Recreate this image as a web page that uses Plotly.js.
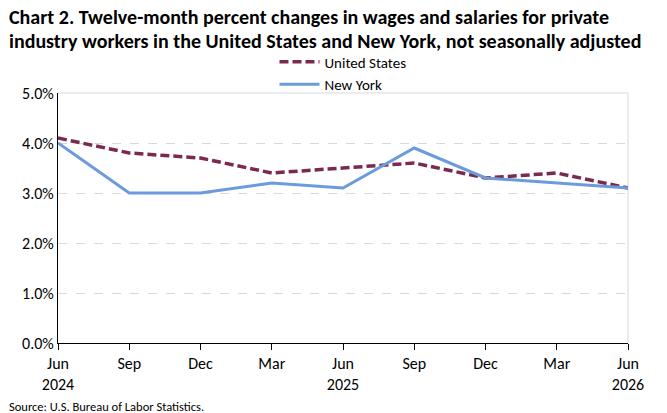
<!DOCTYPE html>
<html>
<head>
<meta charset="utf-8">
<script src="https://cdn.plot.ly/plotly-3.0.1.min.js"></script>
<style>
  html, body { margin: 0; padding: 0; background: #fff; }
  #chart { width: 667px; height: 413px; }
</style>
</head>
<body>
<div id="chart"></div>
<script>
// quarterly points, Jun 2024 to Jun 2026
var quarters = ['Jun<br>2024', 'Sep', 'Dec', 'Mar', 'Jun<br>2025', 'Sep', 'Dec', 'Mar', 'Jun<br>2026'];
var unitedStates = [4.1, 3.8, 3.7, 3.4, 3.5, 3.6, 3.3, 3.4, 3.1];
var newYork = [4.0, 3.0, 3.0, 3.2, 3.1, 3.9, 3.3, 3.2, 3.1];
var yTicks = [0, 1, 2, 3, 4, 5];
var yTickLabels = ['0.0%', '1.0%', '2.0%', '3.0%', '4.0%', '5.0%'];

var xIdx = quarters.map(function (q, i) { return i; });
var font = 'Carlito, Lato, "Liberation Sans", sans-serif';

var traces = [
  {
    x: xIdx, y: unitedStates, type: 'scatter', mode: 'lines',
    name: 'United States',
    line: { color: '#7a2a4e', width: 3.5, dash: '9px,4px' }
  },
  {
    x: xIdx, y: newYork, type: 'scatter', mode: 'lines',
    name: 'New York',
    line: { color: '#6b9bdc', width: 3 }
  }
];

var layout = {
  width: 667,
  height: 413,
  margin: { l: 58, r: 39, t: 93, b: 70 },
  paper_bgcolor: '#fff',
  plot_bgcolor: '#fff',
  font: { family: font, size: 16, color: '#000' },
  showlegend: true,
  legend: {
    orientation: 'v',
    x: 0.5, xanchor: 'center',
    y: 1.19, yanchor: 'top',
    font: { family: font, size: 15 },
    tracegroupgap: 0,
    itemwidth: 40,
    borderwidth: 0,
    bgcolor: 'rgba(0,0,0,0)'
  },
  xaxis: {
    range: [0, 8],
    tickvals: xIdx,
    ticktext: quarters,
    ticks: 'outside',
    ticklen: 6,
    tickcolor: '#000',
    showline: true,
    linecolor: '#000',
    linewidth: 1,
    showgrid: false,
    zeroline: false,
    fixedrange: true,
    tickfont: { family: font, size: 16 }
  },
  yaxis: {
    range: [0, 5],
    tickvals: yTicks,
    ticktext: yTickLabels,
    showline: true,
    linecolor: '#000',
    linewidth: 1,
    showgrid: true,
    gridcolor: '#d9d9d9',
    griddash: 'dash',
    zeroline: false,
    ticks: '',
    fixedrange: true,
    tickfont: { family: font, size: 16 }
  },
  shapes: [
    { type: 'line', xref: 'paper', yref: 'paper', x0: 0, x1: 1, y0: 1, y1: 1,
      line: { color: '#d9d9d9', width: 1 }, layer: 'below' },
    { type: 'line', xref: 'paper', yref: 'paper', x0: 1, x1: 1, y0: 0, y1: 1,
      line: { color: '#d9d9d9', width: 1 }, layer: 'below' }
  ],
  annotations: [
    {
      text: '<b>Chart 2. Twelve-month percent changes in wages and salaries for private</b>',
      xref: 'paper', yref: 'paper', x: -0.0895, y: 1.304,
      xanchor: 'left', yanchor: 'middle', showarrow: false,
      font: { family: font, size: 20, color: '#000' }
    },
    {
      text: '<b>industry workers in the United States and New York, not seasonally adjusted</b>',
      xref: 'paper', yref: 'paper', x: -0.0895, y: 1.208,
      xanchor: 'left', yanchor: 'middle', showarrow: false,
      font: { family: font, size: 20, color: '#000' }
    },
    {
      text: 'Source: U.S. Bureau of Labor Statistics.',
      xref: 'paper', yref: 'paper',
      x: -0.0895, y: -0.252, xanchor: 'left', yanchor: 'middle',
      showarrow: false,
      font: { family: font, size: 12.5, color: '#000' }
    }
  ]
};

Plotly.newPlot('chart', traces, layout, { displayModeBar: false, staticPlot: true });
</script>
</body>
</html>
